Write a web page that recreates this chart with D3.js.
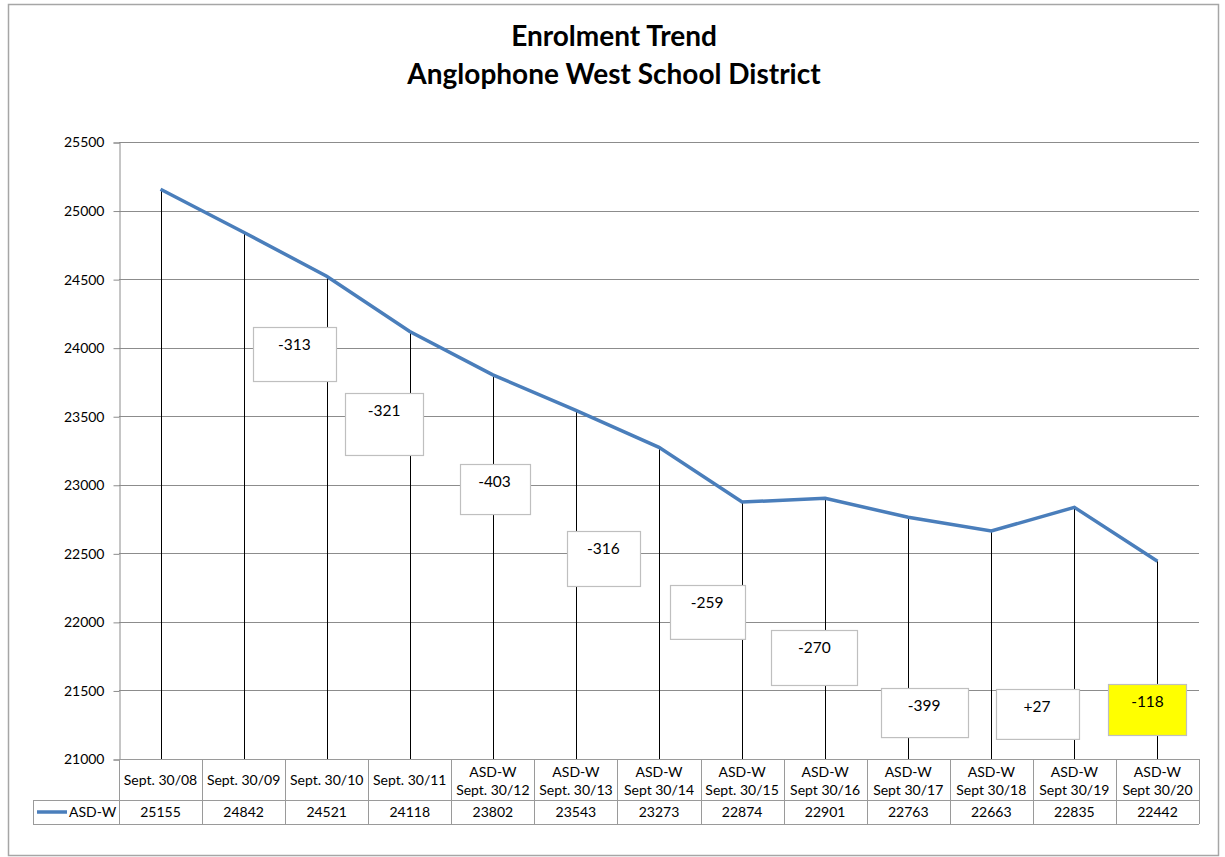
<!DOCTYPE html>
<meta charset="utf-8">
<style>
body { margin: 0; background: #fff; }
text { font-family: Lato, "Open Sans", sans-serif; fill: #000; }
.title { font-weight: bold; font-size: 28px; }
.tick-label { font-size: 14px; }
.cell { font-size: 14px; }
.diff { font-size: 15.5px; }
</style>
<body>
<script src="https://cdn.jsdelivr.net/npm/d3@7"></script>
<script>

// chart data
var catTop = ["", "", "", "", "ASD-W", "ASD-W", "ASD-W", "ASD-W", "ASD-W", "ASD-W", "ASD-W", "ASD-W", "ASD-W"];
var catBottom = ["Sept. 30/08", "Sept. 30/09", "Sept. 30/10", "Sept. 30/11", "Sept. 30/12", "Sept. 30/13",
                 "Sept 30/14", "Sept. 30/15", "Sept 30/16", "Sept 30/17", "Sept 30/18", "Sept 30/19", "Sept 30/20"];
var values = [25155, 24842, 24521, 24118, 23802, 23543, 23273, 22874, 22901, 22763, 22663, 22835, 22442];
var seriesName = "ASD-W";
var diffLabels = ["-313", "-321", "-403", "-316", "-259", "-270", "-399", "+27", "-118"];
var yTicks = [21000, 21500, 22000, 22500, 23000, 23500, 24000, 24500, 25000, 25500];

// where the free-floating difference boxes sit (category index / value units)
var boxLayout = [
  {c: 1.61, top: 24151, bot: 23757, w: 83},
  {c: 2.69, top: 23669, bot: 23217, w: 78},
  {c: 4.02, top: 23151, bot: 22786, w: 70},
  {c: 5.33, top: 22663, bot: 22262, w: 73},
  {c: 6.58, top: 22269, bot: 21876, w: 75},
  {c: 7.87, top: 21941, bot: 21540, w: 86},
  {c: 9.19, top: 21518, bot: 21160, w: 87},
  {c: 10.55, top: 21510, bot: 21146, w: 83},
  {c: 11.88, top: 21547, bot: 21175, w: 78, fill: "#ffff00"}
];

var W = 1225, H = 857;
var pL = 119, pR = 1199, pT = 142, pB = 759;
var legendLeft = 33, row1 = 800, row2 = 824;

var svg = d3.select("body").append("svg")
    .attr("width", W)
    .attr("height", H);

// outer frame
svg.append("rect")
    .attr("x", 8.5).attr("y", 4.5)
    .attr("width", 1210).attr("height", 851)
    .attr("fill", "#fff").attr("stroke", "#a6a6a6").attr("stroke-width", 1.5);

svg.append("text").attr("class", "title")
    .attr("x", 614).attr("y", 46).attr("text-anchor", "middle")
    .text("Enrolment Trend");
svg.append("text").attr("class", "title")
    .attr("x", 614).attr("y", 84).attr("text-anchor", "middle")
    .text("Anglophone West School District");

var x = d3.scaleBand()
    .domain(d3.range(values.length))
    .range([pL, pR]);

var y = d3.scaleLinear()
    .domain([21000, 25500])
    .range([pB, pT]);

var cx = function(i) { return x(i) + x.bandwidth() / 2; };

// gridlines
svg.append("g").selectAll("line")
    .data(yTicks.slice(1))
  .enter().append("line")
    .attr("x1", pL).attr("x2", pR)
    .attr("y1", function(d) { return Math.round(y(d)) + 0.5; })
    .attr("y2", function(d) { return Math.round(y(d)) + 0.5; })
    .attr("stroke", "#8c8c8c");

// y axis
var yAxis = d3.axisLeft(y).tickValues(yTicks).tickSize(6).tickPadding(9).tickFormat(d3.format("d"));
var ga = svg.append("g")
    .attr("transform", "translate(" + (pL + 0.5) + ",0.5)")
    .call(yAxis);
ga.attr("font-family", null).attr("font-size", null);
ga.select(".domain").attr("stroke", "#8c8c8c");
ga.selectAll(".tick line").attr("stroke", "#8c8c8c");
ga.selectAll(".tick text").attr("class", "tick-label");

// drop lines
svg.append("g").selectAll("line")
    .data(values)
  .enter().append("line")
    .attr("x1", function(d, i) { return Math.round(cx(i)) + 0.5; })
    .attr("x2", function(d, i) { return Math.round(cx(i)) + 0.5; })
    .attr("y1", function(d) { return y(d); })
    .attr("y2", pB)
    .attr("stroke", "#000");

// series line
var line = d3.line()
    .x(function(d, i) { return cx(i); })
    .y(function(d) { return y(d); });

svg.append("path")
    .datum(values)
    .attr("d", line)
    .attr("fill", "none")
    .attr("stroke", "#4a7ebb")
    .attr("stroke-width", 3.5);

// difference boxes
var boxes = svg.append("g").selectAll("g")
    .data(diffLabels)
  .enter().append("g");

var catUnit = x.step();
var bx = function(i) { return pL + (boxLayout[i].c + 0.5) * catUnit; };
boxes.append("rect")
    .attr("x", function(d, i) { return Math.round(bx(i) - boxLayout[i].w / 2) + 0.5; })
    .attr("y", function(d, i) { return Math.round(y(boxLayout[i].top)) + 0.5; })
    .attr("width", function(d, i) { return boxLayout[i].w; })
    .attr("height", function(d, i) { return y(boxLayout[i].bot) - y(boxLayout[i].top); })
    .attr("fill", function(d, i) { return boxLayout[i].fill || "#fff"; })
    .attr("stroke", "#bfbfbf")
    .attr("stroke-width", 1.2);

boxes.append("text").attr("class", "diff")
    .attr("x", function(d, i) { return bx(i); })
    .attr("y", function(d, i) { return y(boxLayout[i].top) + 23; })
    .attr("text-anchor", "middle")
    .text(function(d) { return d; });

// data table
var table = svg.append("g");
var gridColor = "#9a9a9a";

table.append("line").attr("x1", pL).attr("x2", pR).attr("y1", pB + 0.5).attr("y2", pB + 0.5).attr("stroke", gridColor);
table.append("line").attr("x1", legendLeft).attr("x2", pR).attr("y1", row1 + 0.5).attr("y2", row1 + 0.5).attr("stroke", gridColor);
table.append("line").attr("x1", legendLeft).attr("x2", pR).attr("y1", row2 + 0.5).attr("y2", row2 + 0.5).attr("stroke", gridColor);
table.append("line").attr("x1", legendLeft + 0.5).attr("x2", legendLeft + 0.5).attr("y1", row1).attr("y2", row2).attr("stroke", gridColor);

table.selectAll("line.col")
    .data(d3.range(values.length + 1))
  .enter().append("line")
    .attr("class", "col")
    .attr("x1", function(i) { return Math.round(pL + i * catUnit) + 0.5; })
    .attr("x2", function(i) { return Math.round(pL + i * catUnit) + 0.5; })
    .attr("y1", pB).attr("y2", row2)
    .attr("stroke", gridColor);

table.selectAll("text.top")
    .data(catTop)
  .enter().append("text")
    .attr("class", "cell")
    .attr("x", function(d, i) { return cx(i); })
    .attr("y", 777)
    .attr("text-anchor", "middle")
    .text(function(d) { return d; });

table.selectAll("text.bot")
    .data(catBottom)
  .enter().append("text")
    .attr("class", "cell")
    .attr("x", function(d, i) { return cx(i); })
    .attr("y", function(d, i) { return catTop[i] ? 795 : 785; })
    .attr("text-anchor", "middle")
    .text(function(d) { return d; });

table.selectAll("text.val")
    .data(values)
  .enter().append("text")
    .attr("class", "cell")
    .attr("x", function(d, i) { return cx(i); })
    .attr("y", 817)
    .attr("text-anchor", "middle")
    .text(function(d) { return d; });

// legend key
table.append("line")
    .attr("x1", 37).attr("x2", 67).attr("y1", 812).attr("y2", 812)
    .attr("stroke", "#4a7ebb").attr("stroke-width", 3.5);
table.append("text").attr("class", "cell")
    .attr("x", 69).attr("y", 817)
    .text(seriesName);

</script>
</body>
